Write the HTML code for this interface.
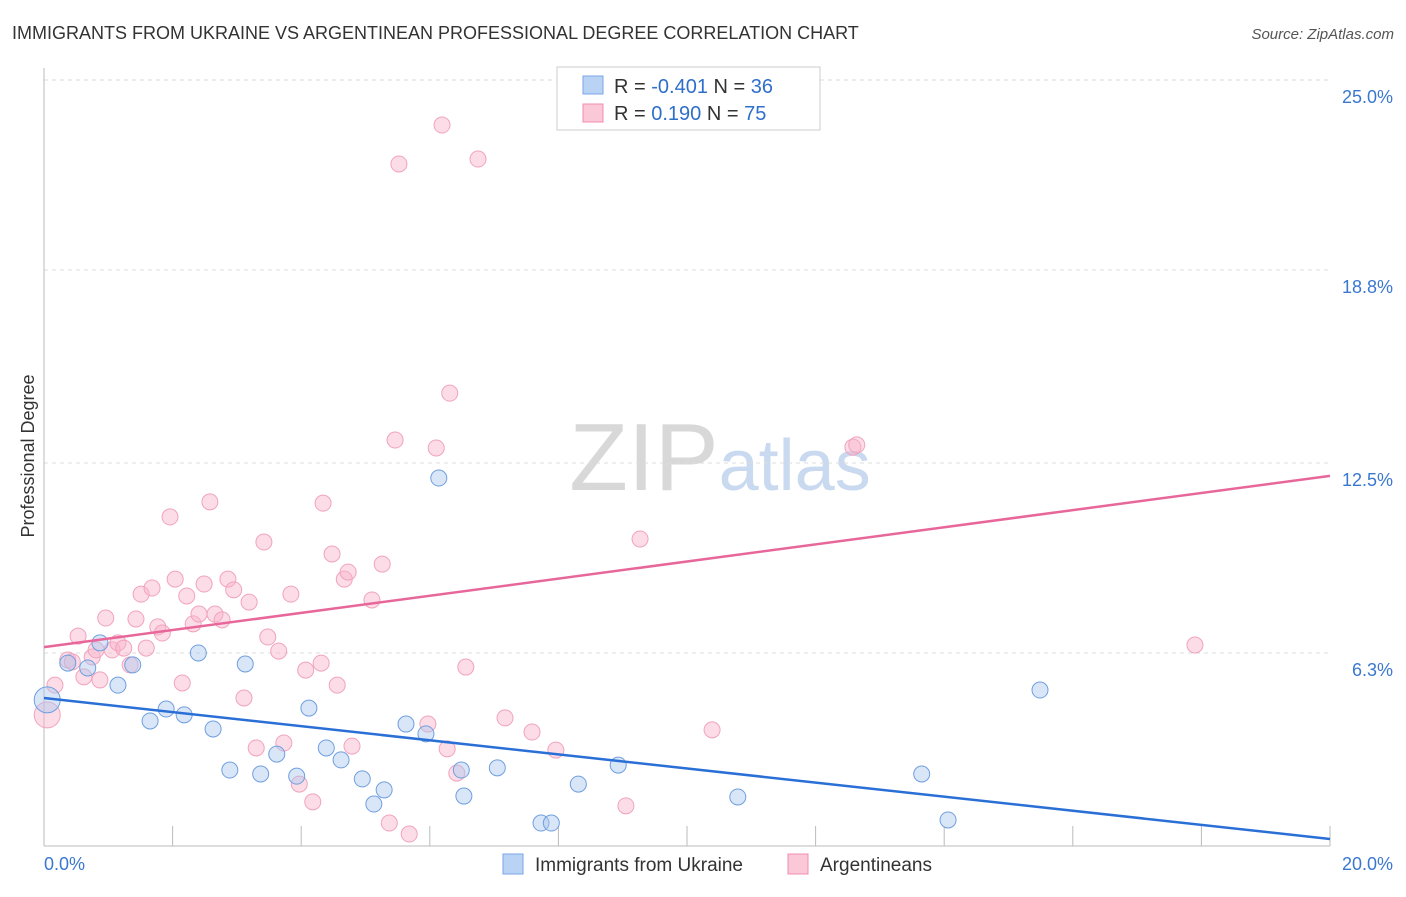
<!DOCTYPE html>
<html><head><meta charset="utf-8">
<style>
body{margin:0;background:#fff;font-family:"Liberation Sans",sans-serif;}
svg text{font-family:"Liberation Sans",sans-serif;}
</style></head>
<body>
<svg id="chart" width="1406" height="892" xmlns="http://www.w3.org/2000/svg">
<text x="12" y="39" font-size="18" fill="#333">IMMIGRANTS FROM UKRAINE VS ARGENTINEAN PROFESSIONAL DEGREE CORRELATION CHART</text>
<text x="1394" y="39" font-size="15" fill="#555" text-anchor="end" font-style="italic">Source: ZipAtlas.com</text>
<text x="720" y="490" font-size="96" text-anchor="middle" fill="#ddd" font-family="Liberation Serif"><tspan fill="#d8d8d8">ZIP</tspan><tspan fill="#c9d9ef" font-family="Liberation Sans" font-size="72">atlas</tspan></text>
<g id="grid"></g>
<g id="axes"></g>
<g id="pts"></g>
<text transform="translate(34,456) rotate(-90)" font-size="18" fill="#333" text-anchor="middle">Professional Degree</text>
<g>
<rect x="557" y="67" width="263" height="63" fill="#fff" stroke="#ccc"/>
<rect x="583" y="76" width="20" height="18" fill="#b9d3f5" stroke="#7aa6e6"/>
<rect x="583" y="104" width="20" height="18" fill="#fbc8d8" stroke="#f08cac"/>
<text x="614" y="93" font-size="20" fill="#333">R = <tspan fill="#2f6fcc">-0.401</tspan>   N = <tspan fill="#2f6fcc">36</tspan></text>
<text x="614" y="120" font-size="20" fill="#333">R =   <tspan fill="#2f6fcc">0.190</tspan>   N = <tspan fill="#2f6fcc">75</tspan></text>
</g>
<g>
<rect x="503" y="854" width="20" height="20" fill="#b9d3f5" stroke="#7aa6e6"/>
<text x="535" y="871" font-size="19" fill="#333">Immigrants from Ukraine</text>
<rect x="788" y="854" width="20" height="20" fill="#fbc8d8" stroke="#f08cac"/>
<text x="820" y="871" font-size="19" fill="#333">Argentineans</text>
</g>
</svg>
<script>
const xTicks=[0,20];
const yTicks=[6.3,12.5,18.8,25.0];
const blueX=[0.05,0.37,0.68,0.87,1.15,1.38,1.65,1.90,2.18,2.40,2.63,2.89,3.13,3.37,3.62,3.93,4.12,4.39,4.62,4.95,5.13,5.29,5.63,5.94,6.14,6.49,6.53,7.05,7.73,7.89,8.31,8.93,10.79,13.65,14.06,15.49];
const blueY=[4.77,5.97,5.81,6.63,5.25,5.91,4.08,4.47,4.28,6.30,3.82,2.48,5.94,2.35,3.00,2.28,4.50,3.20,2.81,2.19,1.37,1.83,3.98,3.66,12.01,2.48,1.63,2.55,0.75,0.75,2.02,2.64,1.60,2.35,0.85,5.09];
const pinkX=[0.05,0.17,0.37,0.44,0.53,0.62,0.75,0.81,0.87,0.96,1.06,1.15,1.24,1.34,1.43,1.51,1.59,1.68,1.77,1.84,1.96,2.04,2.15,2.22,2.32,2.41,2.49,2.58,2.66,2.77,2.86,2.95,3.11,3.19,3.30,3.42,3.48,3.65,3.73,3.84,3.97,4.07,4.18,4.34,4.31,4.48,4.56,4.67,4.73,4.79,5.10,5.26,5.37,5.46,5.52,5.68,5.97,6.10,6.19,6.27,6.31,6.42,6.56,6.75,7.17,7.59,7.96,9.05,9.27,10.39,12.58,12.64,17.90,8.18];
const pinkY=[4.28,5.25,6.07,6.01,6.85,5.52,6.17,6.40,5.42,7.44,6.40,6.63,6.46,5.91,7.41,8.22,6.46,8.42,7.15,6.95,10.74,8.71,5.32,8.16,7.25,7.57,8.55,11.23,7.57,7.38,8.71,8.36,4.83,7.96,3.20,9.92,6.82,6.36,3.36,8.22,2.02,5.74,1.44,11.19,5.97,9.53,5.25,8.71,8.94,3.26,8.03,9.20,0.75,13.25,22.26,0.39,3.98,12.99,23.53,3.17,14.78,2.38,5.84,22.42,4.18,3.72,3.13,1.31,10.02,3.79,13.02,13.09,6.56,24.74];
const blueTrend=[4.83,0.23];
const pinkTrend=[6.49,12.08];
const X=v=>44+v*64.3, Y=v=>846-v*30.64;
const NS="http://www.w3.org/2000/svg";
function mk(t,a,p){const e=document.createElementNS(NS,t);for(const k in a)e.setAttribute(k,a[k]);p.appendChild(e);return e;}
const grid=document.getElementById('grid'),axes=document.getElementById('axes'),pts=document.getElementById('pts');
yTicks.forEach(v=>{
 const l=mk('line',{x1:44,x2:1330,y1:Y(v),y2:Y(v),stroke:'#ddd','stroke-dasharray':'4,4'},grid);
 
 
 const t=mk('text',{x:1393,y:Y(v)+23,'font-size':18,fill:'#3a78d0','text-anchor':'end'},axes);
 t.textContent=v.toFixed(1)+'%';
 
 
});
mk('line',{x1:44,x2:44,y1:68,y2:846,stroke:'#bbb'},axes);
mk('line',{x1:44,x2:1330,y1:846,y2:846,stroke:'#bbb'},axes);
for(let i=0;i<=10;i++){mk('line',{x1:X(i*2),x2:X(i*2),y1:826,y2:846,stroke:'#bbb'},axes);}
xTicks.forEach((v,i)=>{
 const t=mk('text',{x:i==0?44:1393,y:870,'font-size':18,fill:'#3a78d0','text-anchor':i==0?'start':'end'},axes);
 t.textContent=v.toFixed(1)+'%';
 
 
});
pinkX.forEach((x,i)=>{
 const c=mk('circle',{cx:X(x),cy:Y(pinkY[i]),r:i==0?13:8,fill:'rgba(248,180,202,0.45)',stroke:'#f1a3bd','stroke-width':1},pts);
 
 
});
blueX.forEach((x,i)=>{
 const c=mk('circle',{cx:X(x),cy:Y(blueY[i]),r:i==0?13:8,fill:'rgba(170,200,240,0.45)',stroke:'#6f9fdf','stroke-width':1},pts);
 
 
});
const bl=mk('line',{x1:X(0),x2:X(20),y1:Y(blueTrend[0]),y2:Y(blueTrend[1]),stroke:'#2a6fd6','stroke-width':2.5},pts);


const pl=mk('line',{x1:X(0),x2:X(20),y1:Y(pinkTrend[0]),y2:Y(pinkTrend[1]),stroke:'#e8679a','stroke-width':2.5},pts);


</script>
</body></html>
